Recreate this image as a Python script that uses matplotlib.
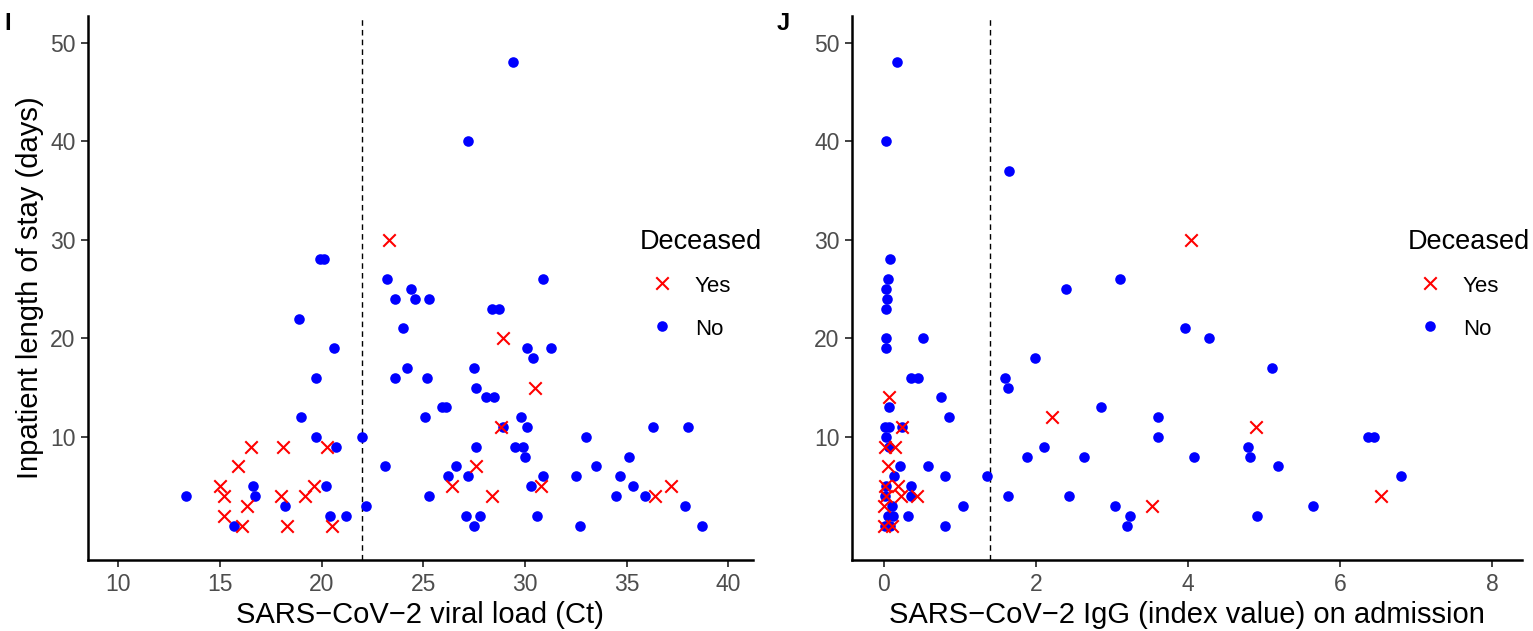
import matplotlib
matplotlib.use('Agg')
import matplotlib.pyplot as plt

plt.rcParams['font.family'] = ['Liberation Sans', 'DejaVu Sans']

# panel I: viral load (Ct) vs length of stay
ct_yes_x = [23.3, 28.9, 30.5, 28.8, 16.5, 18.1, 20.25, 15.9, 27.6, 15.0, 19.6, 26.4,
            30.8, 37.2, 15.2, 18.0, 19.2, 28.4, 36.4, 16.3, 15.2, 16.1, 18.3, 20.5]
ct_yes_y = [30, 20, 15, 11, 9, 9, 9, 7, 7, 5, 5, 5,
            5, 5, 4, 4, 4, 4, 4, 3, 2, 1, 1, 1]
ct_no_x = [29.4, 27.2, 19.9, 20.1, 23.2, 30.9, 24.4, 23.6, 24.6, 25.3, 28.4, 28.7,
           18.9, 24.0, 20.6, 30.1, 31.3, 30.4, 24.2, 27.5, 19.7, 23.6, 25.2, 27.6,
           28.1, 28.5, 25.9, 26.1, 19.0, 25.1, 29.8, 28.9, 30.1, 36.3, 38.0, 19.7,
           22.0, 33.0, 20.7, 27.6, 29.5, 29.9, 30.0, 35.1, 23.1, 26.6, 33.5, 26.2,
           27.2, 30.9, 32.5, 34.7, 16.6, 20.2, 30.3, 35.3, 13.3, 16.7, 25.3, 34.5,
           35.9, 18.2, 22.2, 37.9, 20.4, 21.2, 27.1, 27.8, 30.6, 15.7, 27.5, 32.7,
           38.7]
ct_no_y = [48, 40, 28, 28, 26, 26, 25, 24, 24, 24, 23, 23,
           22, 21, 19, 19, 19, 18, 17, 17, 16, 16, 16, 15,
           14, 14, 13, 13, 12, 12, 12, 11, 11, 11, 11, 10,
           10, 10, 9, 9, 9, 9, 8, 8, 7, 7, 7, 6,
           6, 6, 6, 6, 5, 5, 5, 5, 4, 4, 4, 4,
           4, 3, 3, 3, 2, 2, 2, 2, 2, 1, 1, 1,
           1]
ct_cutoff = 22

# panel J: IgG index vs length of stay
igg_yes_x = [4.04, 0.06, 2.21, 4.89, 0.24, 0.01, 0.14, 0.05, 0.01, 0.19, 0.03, 0.23,
             0.44, 6.54, 3.53, 0.0, 0.0, 0.1]
igg_yes_y = [30, 14, 12, 11, 11, 9, 9, 7, 5, 5, 4, 4,
             4, 4, 3, 3, 1, 1]
igg_no_x = [0.17, 0.03, 1.64, 0.08, 0.05, 0.03, 0.04, 0.03, 3.11, 2.40, 3.96, 0.03,
            0.51, 4.28, 0.03, 1.98, 5.1, 0.35, 0.45, 1.59, 1.63, 0.75, 0.06, 2.85,
            0.86, 3.61, 0.01, 0.07, 0.24, 0.03, 3.6, 6.37, 6.44, 0.07, 2.1, 4.79,
            1.88, 2.63, 4.08, 4.82, 0.21, 0.58, 5.18, 0.13, 0.8, 1.35, 6.8, 0.03,
            0.36, 0.02, 0.35, 1.63, 2.43, 0.1, 1.04, 3.04, 5.64, 0.05, 0.12, 0.32,
            3.23, 4.9, 0.01, 0.08, 0.8, 3.19]
igg_no_y = [48, 40, 37, 28, 26, 25, 24, 23, 26, 25, 21, 20,
            20, 20, 19, 18, 17, 16, 16, 16, 15, 14, 13, 13,
            12, 12, 11, 11, 11, 10, 10, 10, 10, 9, 9, 9,
            8, 8, 8, 8, 7, 7, 7, 6, 6, 6, 6, 5,
            5, 4, 4, 4, 4, 3, 3, 3, 3, 2, 2, 2,
            2, 2, 1, 1, 1, 1]
igg_cutoff = 1.4

y_ticks = [10, 20, 30, 40, 50]


def draw_panel(ax, no_x, no_y, yes_x, yes_y, cutoff, xticks, xlim, xlabel, ylabel):
    no = ax.scatter(no_x, no_y, s=58, color='#0000FF', marker='o', linewidths=0, zorder=3)
    yes = ax.scatter(yes_x, yes_y, s=80, color='#FF0000', marker='x', linewidths=1.5, zorder=4)
    ax.axvline(cutoff, color='black', linestyle=(0, (4, 3)), linewidth=1.0, zorder=2)
    ax.set_xlim(xlim)
    ax.set_ylim(-2.5, 52.7)
    ax.set_xticks(xticks)
    ax.set_yticks(y_ticks)
    for side in ['top', 'right']:
        ax.spines[side].set_visible(False)
    for side in ['left', 'bottom']:
        ax.spines[side].set_linewidth(1.8)
    ax.tick_params(axis='both', length=5, width=1.3, color='#333333',
                   labelcolor='#4D4D4D', labelsize=16.5, pad=4)
    ax.set_xlabel(xlabel, fontsize=21, labelpad=4)
    if ylabel:
        ax.set_ylabel(ylabel, fontsize=21, labelpad=4)
    return yes, no


fig = plt.figure(figsize=(15.33, 6.31), dpi=100)
ax1 = fig.add_axes([0.0574, 0.1125, 0.4335, 0.862])
ax2 = fig.add_axes([0.5558, 0.1125, 0.437, 0.862])

yes1, no1 = draw_panel(ax1, ct_no_x, ct_no_y, ct_yes_x, ct_yes_y, ct_cutoff,
                       [10, 15, 20, 25, 30, 35, 40], (8.5, 41.2),
                       'SARS\u2212CoV\u22122 viral load (Ct)',
                       'Inpatient length of stay (days)')
yes2, no2 = draw_panel(ax2, igg_no_x, igg_no_y, igg_yes_x, igg_yes_y, igg_cutoff,
                       [0, 2, 4, 6, 8], (-0.42, 8.39),
                       'SARS\u2212CoV\u22122 IgG (index value) on admission', None)

for ax, h_yes, h_no, xpos in [(ax1, yes1, no1, 640 / 1533), (ax2, yes2, no2, 1408 / 1533)]:
    leg = ax.legend([h_yes, h_no], ['Yes', 'No'], title='Deceased', loc='upper left',
                    bbox_to_anchor=(xpos - 0.0135, 1 - 209 / 631), bbox_transform=fig.transFigure,
                    frameon=False, fontsize=16, title_fontsize=19.5, labelspacing=0.8,
                    handleheight=1.3, handletextpad=0.5, alignment='left')

fig.text(4 / 1533, 1 - 24 / 631, 'I', fontsize=17, fontweight='bold', va='center')
fig.text(777 / 1533, 1 - 24 / 631, 'J', fontsize=17, fontweight='bold', va='center')

fig.savefig('out.png', dpi=100)
